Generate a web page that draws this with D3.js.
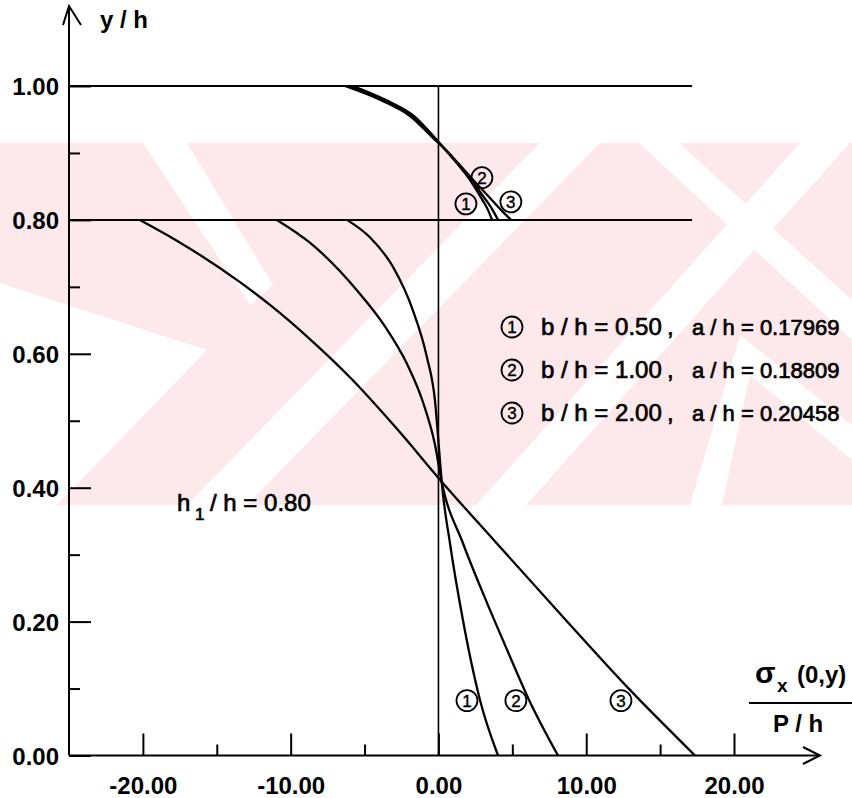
<!DOCTYPE html>
<html>
<head>
<meta charset="utf-8">
<script src="https://cdn.jsdelivr.net/npm/d3@7/dist/d3.min.js"></script>
<style>
  html, body { margin: 0; padding: 0; background: #fff; }
  svg { display: block; }
  text { font-family: "Liberation Sans", Arial, Helvetica, sans-serif; fill: #000; }
</style>
</head>
<body>
<svg id="chart" width="852" height="798"></svg>
<script>
// ---- data: normalised stress sigma_x(0,y)/(P/h) against height y/h ----
// upper block (h1/h <= y/h <= 1), one x/y pair of arrays per case
const up1Y = [1.000, 0.979, 0.954, 0.924, 0.909, 0.885, 0.860, 0.836, 0.815, 0.800];
const up1X = [-6.06, -3.76, -1.73, -0.37, 0.30, 1.25, 2.13, 2.81, 3.35, 3.63];
const up2Y = [1.000, 0.979, 0.954, 0.924, 0.909, 0.885, 0.860, 0.836, 0.816, 0.800];
const up2X = [-5.79, -3.55, -1.59, -0.30, 0.30, 1.25, 2.20, 3.01, 3.63, 4.03];
const up3Y = [1.000, 0.979, 0.954, 0.924, 0.909, 0.885, 0.860, 0.836, 0.815, 0.800];
const up3X = [-6.33, -3.92, -1.86, -0.44, 0.30, 1.32, 2.34, 3.35, 4.23, 4.91];
// lower block (0 <= y/h <= h1/h)
const lo1Y = [0.800, 0.774, 0.730, 0.665, 0.595, 0.531, 0.441, 0.409, 0.317, 0.202, 0.083, 0.000];
const lo1X = [-6.19, -4.64, -3.08, -1.73, -0.78, -0.24, 0.10, 0.22, 0.78, 1.66, 2.81, 4.03];
const lo2Y = [0.800, 0.766, 0.695, 0.641, 0.585, 0.528, 0.465, 0.409, 0.317, 0.232, 0.158, 0.083, 0.000];
const lo2X = [-10.93, -8.70, -5.52, -3.62, -2.13, -1.05, -0.24, 0.22, 1.66, 3.21, 4.64, 6.13, 8.09];
const lo3Y = [0.800, 0.769, 0.707, 0.673, 0.622, 0.565, 0.488, 0.409, 0.317, 0.207, 0.098, 0.000];
const lo3X = [-20.20, -17.70, -13.43, -11.40, -8.70, -5.99, -2.81, 0.22, 3.94, 8.43, 12.96, 17.36];

const seriesIds = ["1", "2", "3"];
const bOverH = ["0.50", "1.00", "2.00"];
const aOverH = ["0.17969", "0.18809", "0.20458"];
const h1OverH = 0.80;

const xMajorTicks = [-20, -10, 0, 10, 20];
const xMinorTicks = [-15, -5, 5, 15];
const yMajorTicks = [0.0, 0.2, 0.4, 0.6, 0.8, 1.0];
const yMinorTicks = [0.1, 0.3, 0.5, 0.7, 0.9];

// circled case numbers placed beside the curves (data coordinates)
const upperMarkX = [1.86, 2.94, 4.9];
const upperMarkY = [0.824, 0.863, 0.827];
const lowerMarkX = [1.93, 5.24, 12.35];
const lowerMarkY = [0.082, 0.082, 0.082];

// ---- drawing ----
const svg = d3.select("#chart");
const x = d3.scaleLinear().domain([-25, 20]).range([69, 734]);
const y = d3.scaleLinear().domain([0, 1]).range([755.5, 86]);

// faint background band with a diagonal pattern
const wm = svg.append("g").attr("class", "backdrop");
wm.append("rect").attr("x", 0).attr("y", 143).attr("width", 852).attr("height", 362).attr("fill", "#fde8ec");
const gaps = [
  [[0,283],[207,350],[57,505],[0,505]],
  [[143,143],[187,143],[273,285],[250,305]],
  [[187,505],[247,505],[600,143],[540,143]],
  [[476,505],[526,505],[850,143],[800,143]],
  [[639,143],[679,143],[852,300],[852,340]],
  [[690,505],[740,335],[852,425],[852,460],[750,375],[722,505]]
];
wm.selectAll("polygon").data(gaps).join("polygon")
  .attr("points", d => d.map(p => p.join(",")).join(" "))
  .attr("fill", "#fff");

// reference lines: top edge, interface h1/h, and sigma = 0
svg.append("line").attr("x1", x(-25)).attr("x2", 692).attr("y1", y(1)).attr("y2", y(1))
  .attr("stroke", "#000").attr("stroke-width", 2);
svg.append("line").attr("x1", x(-25)).attr("x2", 692).attr("y1", y(h1OverH)).attr("y2", y(h1OverH))
  .attr("stroke", "#000").attr("stroke-width", 2);
svg.append("line").attr("x1", x(0)).attr("x2", x(0)).attr("y1", y(1)).attr("y2", y(0))
  .attr("stroke", "#000").attr("stroke-width", 1.6);

// axes
const fmt = d => d.toFixed(2);
const yAx = svg.append("g").attr("transform", `translate(${x(-25)},0)`)
  .call(d3.axisLeft(y).tickValues(yMajorTicks).tickFormat(fmt).tickSizeInner(-22).tickSizeOuter(0).tickPadding(10));
svg.append("g").attr("transform", `translate(${x(-25)},0)`)
  .call(d3.axisLeft(y).tickValues(yMinorTicks).tickFormat("").tickSizeInner(-11).tickSizeOuter(0));
svg.append("g").attr("transform", `translate(0,${y(0)})`)
  .call(d3.axisBottom(x).tickValues(xMajorTicks).tickFormat(fmt).tickSizeInner(-22).tickSizeOuter(0).tickPadding(21));
svg.append("g").attr("transform", `translate(0,${y(0)})`)
  .call(d3.axisBottom(x).tickValues(xMinorTicks).tickFormat("").tickSizeInner(-11).tickSizeOuter(0));
svg.selectAll(".domain").remove();
svg.selectAll(".tick line").attr("stroke", "#000").attr("stroke-width", 2);
svg.selectAll(".tick text").attr("font-size", 24).attr("font-weight", "bold")
  .attr("font-family", "'Liberation Sans', Arial, sans-serif").attr("fill", "#000");
yAx.selectAll(".tick text").attr("dy", "0.37em");

// axis lines with open arrow heads
function stroked(d) {
  return svg.append("path").attr("d", d).attr("stroke", "#000").attr("stroke-width", 2).attr("fill", "none");
}
stroked(`M${x(-25)},${y(0)}V6`);
stroked(`M63,25L${x(-25)},6L81,25`);
stroked(`M${x(-25)},${y(0)}H820`);
stroked(`M803,747L820,${y(0)}L803,764`);

// curves (monotone in x, so a monotone spline keeps them smooth without overshoot)
const line = d3.line().x(d => x(d[0])).y(d => y(d[1])).curve(d3.curveMonotoneX);
const pairs = (xs, ys) => xs.map((v, i) => [v, ys[i]]);
const curves = [
  pairs(up1X, up1Y), pairs(up2X, up2Y), pairs(up3X, up3Y),
  pairs(lo1X, lo1Y), pairs(lo2X, lo2Y), pairs(lo3X, lo3Y)
];
svg.append("g").selectAll("path").data(curves).join("path")
  .attr("d", line).attr("fill", "none").attr("stroke", "#000").attr("stroke-width", 2.3)
  .attr("stroke-linejoin", "round");

// circled case numbers
function circled(g, cx, cy, label) {
  g.append("circle").attr("cx", cx).attr("cy", cy).attr("r", 10.5)
    .attr("fill", "none").attr("stroke", "#000").attr("stroke-width", 1.8);
  g.append("text").attr("x", cx).attr("y", cy).attr("dy", "0.36em").attr("text-anchor", "middle")
    .attr("font-size", 17).attr("stroke", "#000").attr("stroke-width", 0.4).text(label);
}
const marks = svg.append("g");
seriesIds.forEach((id, i) => {
  circled(marks, x(upperMarkX[i]), y(upperMarkY[i]), id);
  circled(marks, x(lowerMarkX[i]), y(lowerMarkY[i]), id);
});

// legend: one text per part so each line stays inside the frame
const leg = svg.append("g");
const rowY = [327, 370, 413];
seriesIds.forEach((id, i) => {
  circled(leg, 512, rowY[i], id);
  const part = (px, size, str) => leg.append("text").attr("x", px).attr("y", rowY[i] + 8)
    .attr("font-size", size).attr("stroke", "#000").attr("stroke-width", 0.7).text(str);
  part(541, 24, `b / h = ${bOverH[i]}`);
  part(667, 24, ",");
  part(692, 22, `a / h = ${aOverH[i]}`);
});

// h1/h annotation
const h1 = svg.append("text").attr("y", 511).attr("font-size", 24)
  .attr("stroke", "#000").attr("stroke-width", 0.7);
h1.append("tspan").attr("x", 177).text("h");
h1.append("tspan").attr("x", 195).attr("dy", 9).attr("font-size", 17).text("1");
h1.append("tspan").attr("x", 210).attr("dy", -9).text(`/ h = ${h1OverH.toFixed(2)}`);

// axis titles
svg.append("text").attr("x", 100).attr("y", 28).attr("font-size", 24).attr("font-weight", "bold").text("y / h");
const xt = svg.append("text").attr("y", 683).attr("font-size", 24).attr("font-weight", "bold");
xt.append("tspan").attr("x", 755).attr("font-size", 30).text("σ");
xt.append("tspan").attr("x", 777).attr("dy", 9).attr("font-size", 19).text("x");
xt.append("tspan").attr("x", 797).attr("dy", -9).text("(0,y)");
svg.append("line").attr("x1", 749).attr("x2", 852).attr("y1", 703).attr("y2", 703)
  .attr("stroke", "#000").attr("stroke-width", 2);
svg.append("text").attr("x", 773).attr("y", 732).attr("font-size", 24).attr("font-weight", "bold").text("P / h");
</script>
</body>
</html>
